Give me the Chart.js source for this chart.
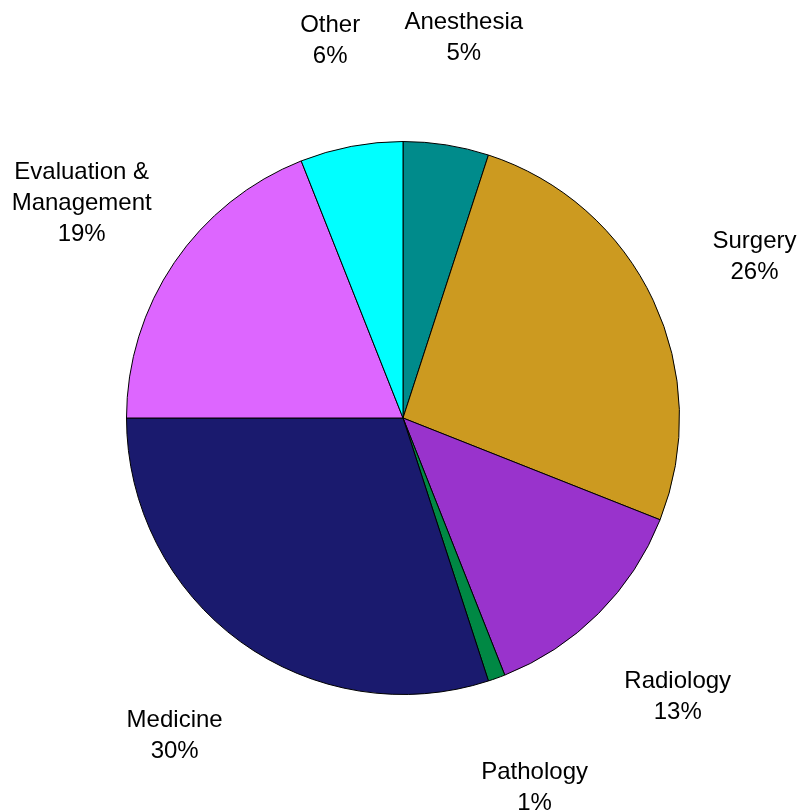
<!DOCTYPE html>
<html>
<head>
<meta charset="utf-8">
<script src="https://cdn.jsdelivr.net/npm/chart.js@4.4.0/dist/chart.umd.min.js"></script>
<style>
  html, body { margin: 0; padding: 0; background: #fff; }
  #wrap { width: 801px; height: 810px; }
</style>
</head>
<body>
<div id="wrap"><canvas id="pieChart" width="801" height="810"></canvas></div>
<script>
// slice labels (lines) and shares, clockwise from 12 o'clock
const labels = [
  ['Anesthesia'],
  ['Surgery'],
  ['Radiology'],
  ['Pathology'],
  ['Medicine'],
  ['Evaluation &', 'Management'],
  ['Other']
];
const shares = [5, 26, 13, 1, 30, 19, 6];
const colors = ['#008B8B', '#CC9A20', '#9933CC', '#008844', '#1A1A6E', '#DD66FF', '#00FFFF'];

// draw the category + percent text outside each slice
const outsideLabels = {
  id: 'outsideLabels',
  afterDatasetsDraw(chart) {
    const ctx = chart.ctx;
    const meta = chart.getDatasetMeta(0);
    ctx.save();
    ctx.font = '24px "Liberation Sans", Arial, sans-serif';
    ctx.fillStyle = '#000';
    ctx.textAlign = 'center';
    ctx.textBaseline = 'middle';
    const lineH = 31;
    meta.data.forEach((arc, i) => {
      const mid = (arc.startAngle + arc.endAngle) / 2;
      const r = arc.outerRadius + 112;
      const x = arc.x + Math.cos(mid) * r;
      const y = arc.y + Math.sin(mid) * r + 4;
      const lines = labels[i].concat([shares[i] + '%']);
      const top = y - (lines.length - 1) * lineH / 2;
      lines.forEach((t, j) => ctx.fillText(t, x, top + j * lineH));
    });
    ctx.restore();
  }
};

new Chart(document.getElementById('pieChart'), {
  type: 'pie',
  data: {
    labels: labels.map(l => l.join(' ')),
    datasets: [{
      data: shares,
      backgroundColor: colors,
      borderColor: '#000',
      borderWidth: 1
    }]
  },
  options: {
    responsive: false,
    animation: false,
    layout: { padding: { left: 126, right: 121, top: 141, bottom: 115 } },
    plugins: {
      legend: { display: false },
      tooltip: { enabled: false }
    }
  },
  plugins: [outsideLabels]
});
</script>
</body>
</html>
